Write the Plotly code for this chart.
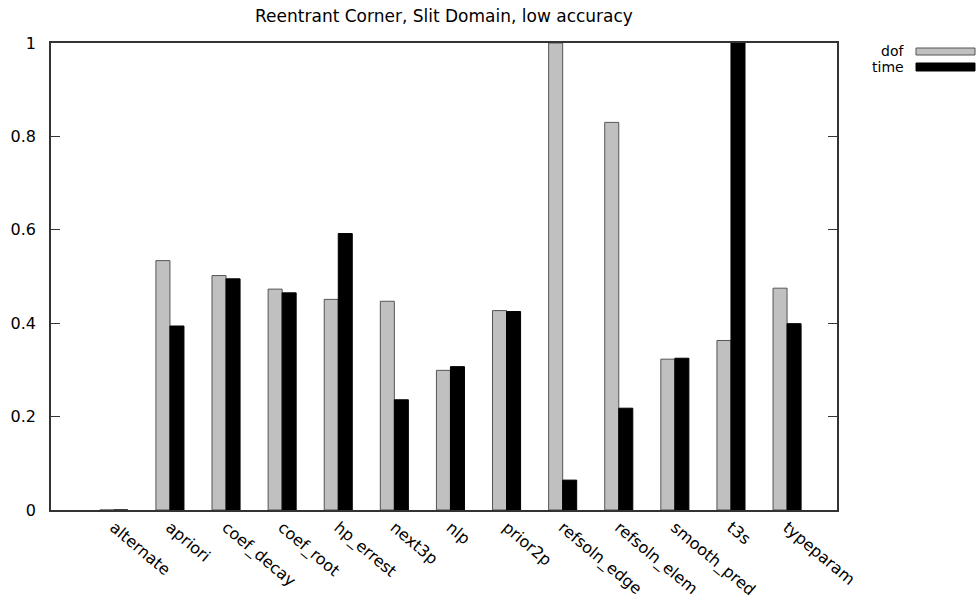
import plotly.graph_objects as go

# Normalised results per refinement strategy
categories = ["alternate", "apriori", "coef_decay", "coef_root", "hp_errest", "next3p",
              "nlp", "prior2p", "refsoln_edge", "refsoln_elem", "smooth_pred", "t3s", "typeparam"]
dof = [0.0, 0.534, 0.502, 0.473, 0.451, 0.447, 0.299, 0.427, 1.0, 0.830, 0.323, 0.363, 0.475]
time = [0.0, 0.394, 0.495, 0.465, 0.592, 0.236, 0.307, 0.425, 0.064, 0.218, 0.325, 1.0, 0.399]
y_ticks = [0, 0.2, 0.4, 0.6, 0.8, 1]
y_tick_text = ["0", "0.2", "0.4", "0.6", "0.8", "1"]

FONT = "DejaVu Sans"
GRAY = "#c0c0c0"
idx = list(range(len(categories)))

fig = go.Figure()
fig.add_trace(go.Bar(x=idx, y=dof, name="dof",
                     marker=dict(color=GRAY, line=dict(color="#555555", width=1))))
fig.add_trace(go.Bar(x=idx, y=time, name="time",
                     marker=dict(color="black", line=dict(color="black", width=1))))

W, H = 977, 602
L, R, T, B = 51, 837, 43, 510
pw, ph = R - L, B - T


def px(xp):
    return (xp - L) / pw


def py(yp):
    return (B - yp) / ph


fig.update_layout(
    width=W, height=H,
    margin=dict(l=L, r=W - R, t=T, b=H - B),
    paper_bgcolor="white", plot_bgcolor="white",
    barmode="group", bargap=0.5, bargroupgap=0,
    showlegend=False,
    font=dict(family=FONT, size=16, color="black"),
    title=dict(text="Reentrant Corner, Slit Domain, low accuracy",
               x=0.5, xref="paper", xanchor="center",
               y=1 - 16 / H, yref="container", yanchor="middle",
               font=dict(family=FONT, size=17, color="black")),
    xaxis=dict(range=[-1.12, 12.89], tickmode="array", tickvals=idx, ticktext=categories,
               tickangle=40, ticks="", showgrid=False, zeroline=False, automargin=False,
               showline=True, linecolor="#333333", linewidth=2, mirror=True,
               tickfont=dict(family=FONT, size=16, color="black")),
    yaxis=dict(range=[0, 1], tickmode="array", tickvals=y_ticks, ticktext=y_tick_text,
               ticks="inside", ticklen=9, tickcolor="#333333", tickwidth=1,
               showgrid=False, zeroline=False, automargin=False,
               showline=True, linecolor="#333333", linewidth=1.5, mirror="ticks",
               ticklabelstandoff=10,
               tickfont=dict(family=FONT, size=16, color="black")),
)

# Key: label on the left, sample box on the right
key = [("dof", GRAY, "#555555", 48, 55, 51), ("time", "black", "black", 63, 71, 67)]
for label, fill, edge, y0, y1, ty in key:
    fig.add_annotation(text=label, x=px(906), y=py(ty), xref="paper", yref="paper",
                       xanchor="right", yanchor="middle", showarrow=False,
                       font=dict(family=FONT, size=14, color="black"))
    fig.add_shape(type="rect", xref="paper", yref="paper",
                  x0=px(916), x1=px(975), y0=py(y1), y1=py(y0),
                  fillcolor=fill, line=dict(color=edge, width=1))

fig.write_html("out.html")
